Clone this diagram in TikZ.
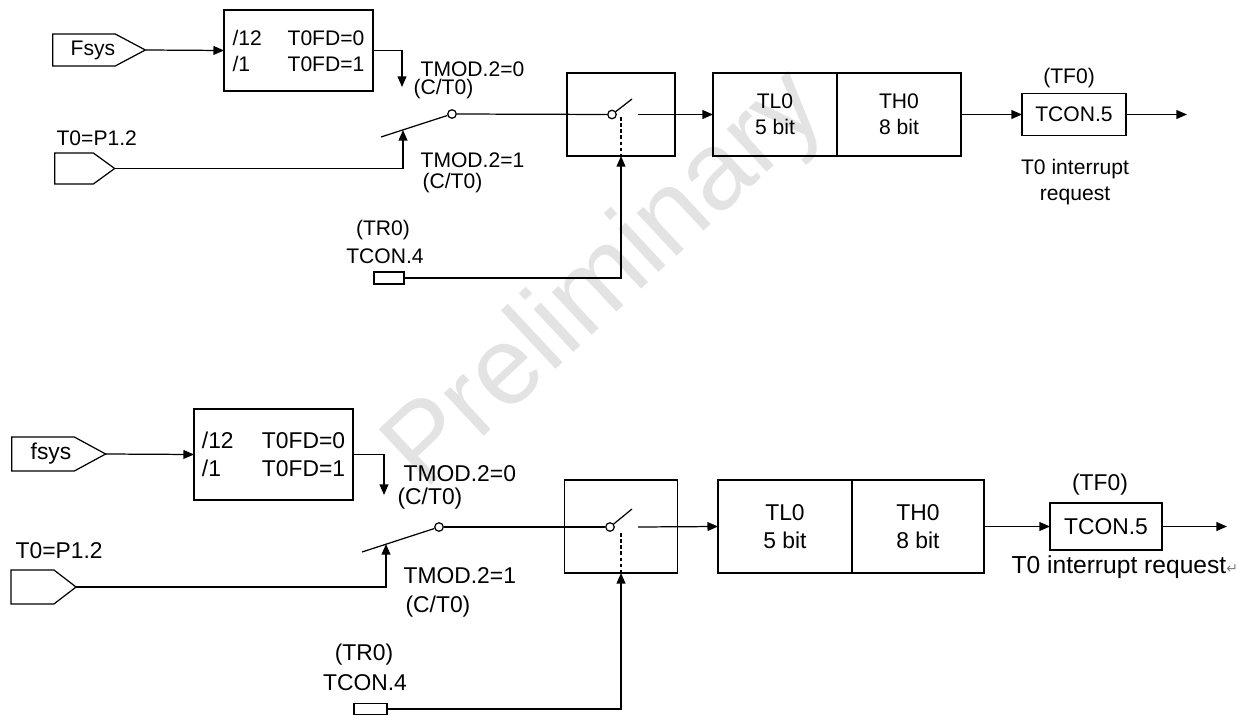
\documentclass[tikz,border=0pt]{standalone}
\usepackage{fontspec}
\setmainfont{Liberation Sans}
\newfontfamily\symfont{DejaVu Sans}
\usetikzlibrary{arrows.meta,shapes.symbols,positioning}

\tikzset{
  sig/.style={-{Triangle[length=6pt,width=5pt]}},
  blk/.style={draw,inner sep=0pt,outer sep=0pt,align=center},
  pin/.style={draw,shape=signal,signal from=nowhere,signal to=east,inner sep=0pt,outer sep=0pt},
  pole/.style={draw,circle,inner sep=0pt,minimum size=0.17cm,fill=white},
  lbl/.style={inner sep=0pt},
  gate/.style={dash pattern=on 2pt off 1.5pt},
  upfont/.style={font=\fontsize{12}{14.8}\selectfont},
  lowfont/.style={font=\fontsize{13}{15.9}\selectfont},
}

\begin{document}
\begin{tikzpicture}[x=0.02cm,y=-0.02cm,line width=0.7pt]
\useasboundingbox (0,0) rectangle (1253,716);

% watermark
\node[text=black!11,font=\fontsize{63}{63}\selectfont,rotate=43] (wmark) at (607,282) {Preliminary};

% ---- upper diagram ----
\begin{scope}[upfont]
    % clock and prescaler
    \node[pin,minimum width=1.76cm,minimum height=0.64cm,signal pointer angle=56] (afsys) at (84,50) {\hspace{0.36cm}Fsys};
    \node[blk,align=left,minimum width=2.98cm,minimum height=1.62cm] (adiv) at (298.5,50.5)
        {\makebox[1.1cm][l]{/12}T0FD=0\\\makebox[1.1cm][l]{/1}T0FD=1};
    \draw[sig] (afsys.east) -- (adiv.west);
    \coordinate (adn) at (402,87);
    \draw[sig] (adiv.east) -| (adn);
    \node[lbl,anchor=west] (amod0) at (420,69) {TMOD.2=0};
    \node[lbl,anchor=west] (amod0c) at (413,89) {(C/T0)};

    % external pin
    \node[pin,minimum width=1.2cm,minimum height=0.62cm,signal pointer angle=72] (at0) at (74,168.5) {};
    \node[lbl,anchor=west] (at0lbl) at (56,138) {T0=P1.2};
    \node[lbl,anchor=west] (amod1) at (420,160) {TMOD.2=1};
    \node[lbl,anchor=west] (amod1c) at (422,183) {(C/T0)};

    % C/T0 switch
    \node[pole] (asw1) at (452,114) {};
    \coordinate (alev) at (381,137);
    \draw (alev) -- (asw1);
    \coordinate (aup) at (403,130);
    \draw[sig] (at0.east) -| (aup);

    % run control
    \node[blk,minimum width=2.16cm,minimum height=1.66cm] (agate) at (621,114.5) {};
    \node[pole] (asw2) at (612,114.5) {};
    \coordinate (aarm) at (632,99);
    \coordinate (agatein) at (621,117);
    \coordinate (aout) at (638,114.5);
    \draw (asw1) -- (asw2);
    \draw (asw2) -- (aarm);
    \draw[gate] (agatein) -- (agate.south);
    \node[blk,minimum width=0.6cm,minimum height=0.24cm] (atr) at (389,278) {};
    \node (atrlbl) at (383,230) {(TR0)};
    \node (atcon4) at (385,256) {TCON.4};
    \draw[sig] (atr.east) -| (agate.south);

    % counter registers
    \node[blk,minimum width=2.48cm,minimum height=1.66cm] (atl) at (775,114.5) {TL0\\5 bit};
    \node[blk,minimum width=2.48cm,minimum height=1.66cm,right=0pt of atl] (ath) {TH0\\8 bit};
    \draw[sig] (aout) -- (atl.west);

    % overflow flag
    \node[blk,minimum width=2.08cm,minimum height=0.84cm] (atf) at (1074,114.5) {TCON.5};
    \node (atflbl) at (1069,78) {(TF0)};
    \draw[sig] (ath.east) -- (atf.west);
    \coordinate (aend) at (1187,114.5);
    \draw[sig] (atf.east) -- (aend);
    \node[align=center] (airq) at (1075,182) {T0 interrupt\\request};
\end{scope}

% ---- lower diagram ----
\begin{scope}[lowfont]
    % clock and prescaler
    \node[pin,minimum width=1.88cm,minimum height=0.68cm,signal pointer angle=57] (bfsys) at (43,454) {\hspace{0.32cm}fsys};
    \node[blk,align=left,minimum width=3.18cm,minimum height=1.82cm] (bdiv) at (273.5,454.5)
        {\makebox[1.2cm][l]{/12}T0FD=0\\\makebox[1.2cm][l]{/1}T0FD=1};
    \draw[sig] (bfsys.east) -- (bdiv.west);
    \coordinate (bdn) at (384,495);
    \draw[sig] (bdiv.east) -| (bdn);
    \node[lbl,anchor=west] (bmod0) at (403,474) {TMOD.2=0};
    \node[lbl,anchor=west] (bmod0c) at (397,499) {(C/T0)};

    % external pin
    \node[pin,minimum width=1.3cm,minimum height=0.68cm,signal pointer angle=75] (bt0) at (32.5,587) {};
    \node[lbl,anchor=west] (bt0lbl) at (15,551) {T0=P1.2};
    \node[lbl,anchor=west] (bmod1) at (403,576) {TMOD.2=1};
    \node[lbl,anchor=west] (bmod1c) at (405,607) {(C/T0)};

    % C/T0 switch
    \node[pole] (bsw1) at (439,527) {};
    \coordinate (blev) at (362,552);
    \draw (blev) -- (bsw1);
    \coordinate (bup) at (386,544);
    \draw[sig] (bt0.east) -| (bup);

    % run control
    \node[blk,minimum width=2.26cm,minimum height=1.86cm] (bgate) at (621,526.5) {};
    \node[pole] (bsw2) at (610,527) {};
    \coordinate (barm) at (632,509);
    \coordinate (bgatein) at (621,533);
    \coordinate (bout) at (638,527);
    \draw (bsw1) -- (bsw2);
    \draw (bsw2) -- (barm);
    \draw[gate] (bgatein) -- (bgate.south);
    \node[blk,minimum width=0.66cm,minimum height=0.22cm] (btr) at (370.5,709) {};
    \node (btrlbl) at (364,655) {(TR0)};
    \node (btcon4) at (365,683) {TCON.4};
    \draw[sig] (btr.east) -| (bgate.south);

    % counter registers
    \node[blk,minimum width=2.68cm,minimum height=1.86cm] (btl) at (785,526.5) {TL0\\5 bit};
    \node[blk,minimum width=2.64cm,minimum height=1.86cm,right=0pt of btl] (bth) {TH0\\8 bit};
    \draw[sig] (bout) -- (btl.west);

    % overflow flag
    \node[blk,minimum width=2.24cm,minimum height=0.94cm] (btf) at (1106,526.5) {TCON.5};
    \node (btflbl) at (1100,485) {(TF0)};
    \draw[sig] (bth.east) -- (btf.west);
    \coordinate (bend) at (1227,526.5);
    \draw[sig] (btf.east) -- (bend);
    \node[lbl,anchor=west,font=\fontsize{14}{16}\selectfont] (birq) at (1011,567)
        {T0 interrupt request{\symfont\fontsize{8}{8}\selectfont\color{black!50}↵}};
\end{scope}
\end{tikzpicture}
\end{document}
